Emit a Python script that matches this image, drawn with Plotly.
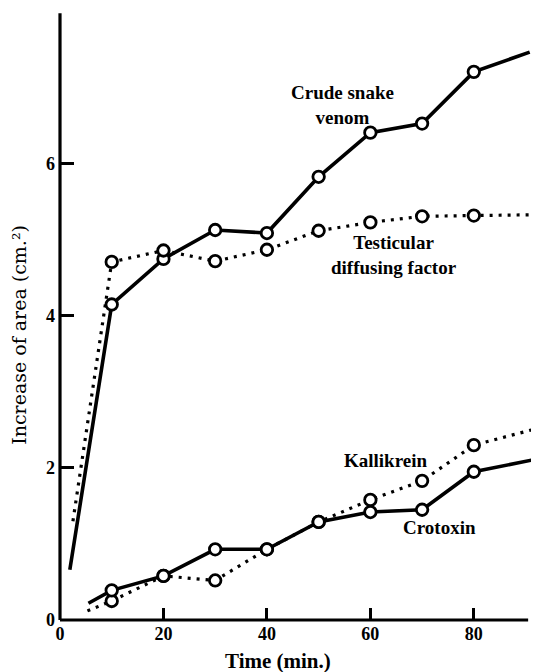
import plotly.graph_objects as go

# ---- data ----
time_pts = [10, 20, 30, 40, 50, 60, 70, 80]

crude_start = (1.9, 0.66)
crude_vals = [4.15, 4.75, 5.13, 5.09, 5.83, 6.41, 6.53, 7.21]
crude_end = (90.8, 7.47)

testic_start = (2.5, 1.3)
testic_vals = [4.71, 4.86, 4.72, 4.87, 5.12, 5.23, 5.31, 5.32]
testic_end = (91.5, 5.33)

kalli_start = (5.3, 0.12)
kalli_vals = [0.25, 0.58, 0.52, 0.93, 1.29, 1.58, 1.83, 2.30]
kalli_end = (91.7, 2.51)

croto_start = (5.5, 0.22)
croto_vals = [0.39, 0.58, 0.93, 0.93, 1.29, 1.42, 1.45, 1.95]
croto_end = (92.4, 2.12)

x_ticks = [0, 20, 40, 60, 80]
x_ticklabels = ["0", "20", "40", "60", "80"]
y_ticks = [0, 2, 4, 6]
y_ticklabels = ["0", "2", "4", "6"]

series = [
    ("Crude snake venom", crude_start, crude_vals, crude_end, "solid"),
    ("Testicular diffusing factor", testic_start, testic_vals, testic_end, "dot"),
    ("Kallikrein", kalli_start, kalli_vals, kalli_end, "dot"),
    ("Crotoxin", croto_start, croto_vals, croto_end, "solid"),
]

fig = go.Figure()

# lines first
for name, st, vals, en, style in series:
    xs = [st[0]] + time_pts + [en[0]]
    ys = [st[1]] + vals + [en[1]]
    if style == "solid":
        line = dict(color="black", width=3.6)
    else:
        line = dict(color="black", width=3.2, dash="3px,6px")
    fig.add_trace(go.Scatter(x=xs, y=ys, mode="lines", line=line,
                             name=name, showlegend=False, hoverinfo="skip"))

# open circle markers on top
for name, st, vals, en, style in series:
    fig.add_trace(go.Scatter(
        x=time_pts, y=vals, mode="markers", showlegend=False, name=name,
        marker=dict(symbol="circle", size=11.5, color="white",
                    line=dict(color="black", width=2.8))))

label_font = dict(family="Liberation Serif", size=19, color="black", weight="bold")
labels = [
    ("Crude snake<br>venom", 54.7, 6.78),
    ("Testicular<br>diffusing factor", 64.5, 4.80),
    ("Kallikrein", 63.0, 2.10),
    ("Crotoxin", 73.3, 1.22),
]
annotations = []
for txt, ax_, ay_ in labels:
    annotations.append(dict(text=txt, x=ax_, y=ay_, xref="x", yref="y",
                            showarrow=False, font=label_font, align="center",
                            xanchor="center", yanchor="middle"))

XMAX = 92.6
YMAX = 8.05

annotations.append(dict(text="Increase of area (cm.²)", xref="paper", yref="paper",
                        x=-0.0856, y=0.466, textangle=-90, showarrow=False,
                        xanchor="center", yanchor="middle",
                        font=dict(family="DejaVu Serif", size=19, color="black")))
annotations.append(dict(text="Time (min.)", xref="paper", yref="paper",
                        x=0.455, y=-0.067, showarrow=False,
                        xanchor="center", yanchor="middle",
                        font=dict(family="Liberation Serif", size=21, color="black",
                                  weight="bold")))

shapes = [
    dict(type="line", xref="paper", yref="paper", x0=0, x1=0, y0=0, y1=7.98 / YMAX,
         line=dict(color="black", width=3.2)),
    dict(type="line", xref="paper", yref="paper", x0=0, x1=90.5 / XMAX, y0=0, y1=0,
         line=dict(color="black", width=3.2)),
]

tick_font = dict(family="Liberation Serif", size=18, color="black", weight="bold")

fig.update_layout(
    width=539, height=672,
    margin=dict(l=52, r=8, t=0, b=60),
    paper_bgcolor="white", plot_bgcolor="white",
    xaxis=dict(range=[0, XMAX], showgrid=False, zeroline=False, showline=False,
               tickmode="array", tickvals=x_ticks, ticktext=x_ticklabels,
               ticks="inside", ticklen=12, tickwidth=3, tickcolor="black",
               tickfont=tick_font, ticklabelstandoff=1),
    yaxis=dict(range=[0, YMAX], showgrid=False, zeroline=False, showline=False,
               tickmode="array", tickvals=y_ticks, ticktext=y_ticklabels,
               ticks="inside", ticklen=14, tickwidth=3, tickcolor="black",
               tickfont=tick_font, ticklabelstandoff=4),
    annotations=annotations,
    shapes=shapes,
)

fig.write_html("out.html")
